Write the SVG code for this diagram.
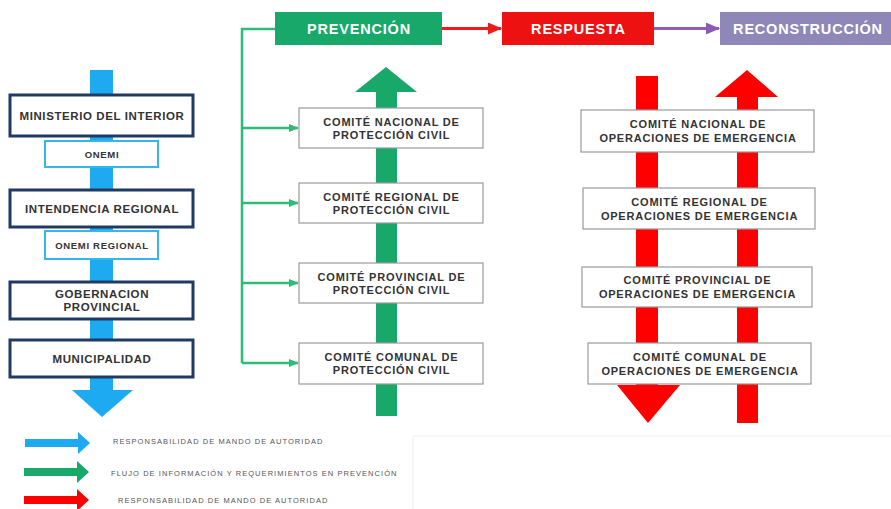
<svg xmlns="http://www.w3.org/2000/svg" width="891" height="509" viewBox="0 0 891 509">
<style>
text{font-family:"Liberation Sans",Arial,sans-serif;font-weight:bold;text-anchor:middle;dominant-baseline:central}
.nav{fill:#fff;stroke:#1f3b63;stroke-width:3}
.lb{fill:#fff;stroke:#36b7ec;stroke-width:2}
.cm{fill:#fff;stroke:#9a9a9a;stroke-width:1.2}
.lt{font-size:11.5px;fill:#333;letter-spacing:0.6px}
.st{font-size:9.5px;fill:#333;letter-spacing:0.7px}
.ct{font-size:11px;fill:#333;letter-spacing:0.8px}
.ht{font-size:14.5px;fill:#fff;letter-spacing:0.8px}
.lg{font-size:7.5px;font-weight:normal;fill:#555;text-anchor:start;letter-spacing:1.05px}
.gl{stroke:#2dbb78;stroke-width:2.5;fill:none}
</style>
<defs>
<marker id="ga" markerWidth="10" markerHeight="10" refX="9" refY="5" orient="auto" markerUnits="userSpaceOnUse"><path d="M0,1 L10,5 L0,9 Z" fill="#2dbb78"/></marker>
<marker id="ra" markerWidth="14" markerHeight="12" refX="13" refY="6" orient="auto" markerUnits="userSpaceOnUse"><path d="M0,0 L14,6 L0,12 Z" fill="#ee1b1b"/></marker>
<marker id="pa" markerWidth="14" markerHeight="12" refX="13" refY="6" orient="auto" markerUnits="userSpaceOnUse"><path d="M0,0 L14,6 L0,12 Z" fill="#8b5cb6"/></marker>
</defs>

<!-- faint frame -->
<path d="M413,509 V436 H891" fill="none" stroke="#eeeeee" stroke-width="1"/>

<!-- big arrows -->
<g id="big-arrows">
<path d="M90,70 H113 V390 H133 L102,417 L72,390 H90 Z" fill="#1eaaf1"/>
<path d="M376,416 V92 H355 L386,67 L417,92 H397 V416 Z" fill="#17a86a"/>
<path d="M636,76 H658 V385 H680 L648,423 L617,385 H636 Z" fill="#ff0000"/>
<path d="M737,423 V97 H715 L747,70 L778,97 H758 V423 Z" fill="#ff0000"/>
</g>

<!-- connectors -->
<g id="connectors">
<path class="gl" d="M275,29 H242 V363"/>
<line class="gl" x1="242" y1="128" x2="298" y2="128" marker-end="url(#ga)"/>
<line class="gl" x1="242" y1="203" x2="298" y2="203" marker-end="url(#ga)"/>
<line class="gl" x1="242" y1="283" x2="298" y2="283" marker-end="url(#ga)"/>
<line class="gl" x1="242" y1="363" x2="298" y2="363" marker-end="url(#ga)"/>
<line x1="442" y1="28.5" x2="501" y2="28.5" stroke="#ee1b1b" stroke-width="3" marker-end="url(#ra)"/>
<line x1="654" y1="28.5" x2="719" y2="28.5" stroke="#8b5cb6" stroke-width="3" marker-end="url(#pa)"/>
</g>

<!-- left column -->
<g id="ministerio"><rect class="nav" x="10" y="95" width="183" height="41"/><text class="lt" x="102" y="115.5">MINISTERIO DEL INTERIOR</text></g>
<g id="onemi"><rect class="lb" x="45" y="141" width="113" height="26"/><text class="st" x="102" y="154">ONEMI</text></g>
<g id="intendencia"><rect class="nav" x="10" y="190" width="183" height="37"/><text class="lt" x="102" y="208.5">INTENDENCIA REGIONAL</text></g>
<g id="onemi-regional"><rect class="lb" x="45" y="231" width="113" height="28"/><text class="st" x="102" y="245">ONEMI REGIONAL</text></g>
<g id="gobernacion"><rect class="nav" x="10" y="282" width="183" height="37"/><text class="lt" x="102" y="294">GOBERNACION</text><text class="lt" x="102" y="307">PROVINCIAL</text></g>
<g id="municipalidad"><rect class="nav" x="10" y="340" width="183" height="37"/><text class="lt" x="102" y="358.5">MUNICIPALIDAD</text></g>

<!-- headers -->
<g id="prevencion"><rect x="275" y="12" width="167" height="33" fill="#17a86a"/><text class="ht" x="359" y="28.5">PREVENCIÓN</text></g>
<g id="respuesta"><rect x="502" y="12" width="152" height="33" fill="#ee1111"/><text class="ht" x="578.5" y="28.5">RESPUESTA</text></g>
<g id="reconstruccion"><rect x="720" y="12" width="171" height="33" fill="#8e87b8"/><text class="ht" x="808" y="28.5">RECONSTRUCCIÓN</text></g>

<!-- prevention committees -->
<g id="cnpc"><rect class="cm" x="299" y="108" width="184" height="40"/><text class="ct" x="391.5" y="121.5">COMITÉ NACIONAL DE</text><text class="ct" x="391.5" y="135">PROTECCIÓN CIVIL</text></g>
<g id="crpc"><rect class="cm" x="299" y="183" width="184" height="40"/><text class="ct" x="391.5" y="196.5">COMITÉ REGIONAL DE</text><text class="ct" x="391.5" y="210">PROTECCIÓN CIVIL</text></g>
<g id="cppc"><rect class="cm" x="299" y="263" width="184" height="40"/><text class="ct" x="391.5" y="276.5">COMITÉ PROVINCIAL DE</text><text class="ct" x="391.5" y="290">PROTECCIÓN CIVIL</text></g>
<g id="ccpc"><rect class="cm" x="299" y="343" width="184" height="41"/><text class="ct" x="391.5" y="356.5">COMITÉ COMUNAL DE</text><text class="ct" x="391.5" y="370">PROTECCIÓN CIVIL</text></g>

<!-- emergency committees -->
<g id="cnoe"><rect class="cm" x="581" y="110" width="233" height="42"/><text class="ct" x="698" y="124">COMITÉ NACIONAL DE</text><text class="ct" x="698" y="138">OPERACIONES DE EMERGENCIA</text></g>
<g id="croe"><rect class="cm" x="583" y="188" width="232" height="41"/><text class="ct" x="699.5" y="201.5">COMITÉ REGIONAL DE</text><text class="ct" x="699.5" y="215.5">OPERACIONES DE EMERGENCIA</text></g>
<g id="cpoe"><rect class="cm" x="582" y="267" width="230" height="40"/><text class="ct" x="697.5" y="280">COMITÉ PROVINCIAL DE</text><text class="ct" x="697.5" y="294">OPERACIONES DE EMERGENCIA</text></g>
<g id="ccoe"><rect class="cm" x="588" y="343" width="223" height="41"/><text class="ct" x="700" y="356.5">COMITÉ COMUNAL DE</text><text class="ct" x="700" y="370.5">OPERACIONES DE EMERGENCIA</text></g>

<!-- legend -->
<g id="legend">
<path d="M25,439 H78 V432 L90,443 L78,454 V447 H25 Z" fill="#1eaaf1"/>
<text class="lg" x="113" y="441">RESPONSABILIDAD DE MANDO DE AUTORIDAD</text>
<path d="M24,468 H77 V461 L89,472 L77,483 V476 H24 Z" fill="#17a86a"/>
<text class="lg" x="111" y="473">FLUJO DE INFORMACIÓN Y REQUERIMIENTOS EN PREVENCIÓN</text>
<path d="M24,496 H77 V489 L89,500 L77,511 V504 H24 Z" fill="#ff0000"/>
<text class="lg" x="118" y="500">RESPONSABILIDAD DE MANDO DE AUTORIDAD</text>
</g>
</svg>
